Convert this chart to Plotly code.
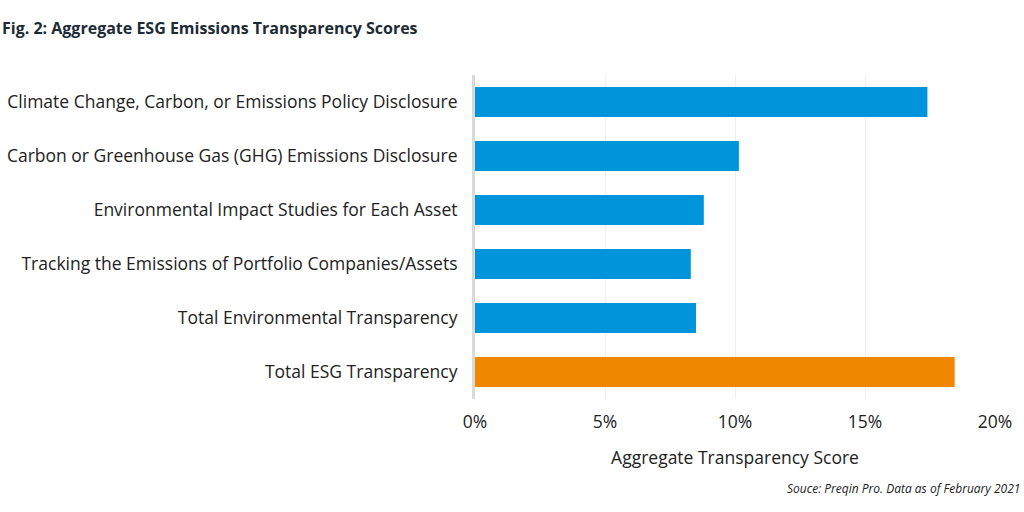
import plotly.graph_objects as go

categories = [
    "Climate Change, Carbon, or Emissions Policy Disclosure",
    "Carbon or Greenhouse Gas (GHG) Emissions Disclosure",
    "Environmental Impact Studies for Each Asset",
    "Tracking the Emissions of Portfolio Companies/Assets",
    "Total Environmental Transparency",
    "Total ESG Transparency",
]
values = [17.4, 10.15, 8.8, 8.3, 8.5, 18.45]
colors = ["#0095da"] * 5 + ["#f08700"]
tick_vals = [0, 5, 10, 15, 20]
tick_text = ["0%", "5%", "10%", "15%", "20%"]

fig = go.Figure(go.Bar(
    x=values, y=categories, orientation="h",
    marker=dict(color=colors, line=dict(width=0)),
    width=0.56,
))

fig.update_layout(
    width=1024, height=512,
    margin=dict(l=475, r=29, t=75, b=113, autoexpand=False),
    paper_bgcolor="white", plot_bgcolor="white",
    font=dict(family="Open Sans", color="#222222", size=17.5),
    showlegend=False,
    xaxis=dict(
        range=[0, 20], tickvals=tick_vals, ticktext=tick_text,
        showgrid=True, gridcolor="#f0f0f0", gridwidth=1,
        zeroline=False, showline=False, automargin=False,
        ticks="", ticklabelstandoff=10,
        tickfont=dict(size=17.5, color="#222222"),
        title=dict(text="Aggregate Transparency Score", font=dict(size=17.5, color="#222222"), standoff=20),
    ),
    yaxis=dict(
        categoryorder="array", categoryarray=categories, autorange="reversed",
        showgrid=False, zeroline=False, automargin=False,
        showline=True, linecolor="#d9d9d9", linewidth=3,
        ticks="", ticklabelstandoff=11,
        tickfont=dict(size=17.5, color="#222222"),
    ),
    annotations=[
        dict(text="<b>Fig. 2: Aggregate ESG Emissions Transparency Scores</b>",
             xref="paper", yref="paper", x=-475/520, y=1 + (75 - 28) / 324,
             xanchor="left", yanchor="middle", showarrow=False,
             font=dict(family="Open Sans", size=16, color="#1d2b36")),
        dict(text="<i>Souce: Preqin Pro. Data as of February 2021</i>",
             xref="paper", yref="paper", x=1 + (1022 - 995) / 520, y=-(489 - 399) / 324,
             xanchor="right", yanchor="middle", showarrow=False,
             font=dict(family="Open Sans", size=12, color="#222222")),
    ],
)

fig.write_html("out.html", config={"displayModeBar": False},
               post_script="document.body.style.margin='0';document.body.style.padding='0';")
